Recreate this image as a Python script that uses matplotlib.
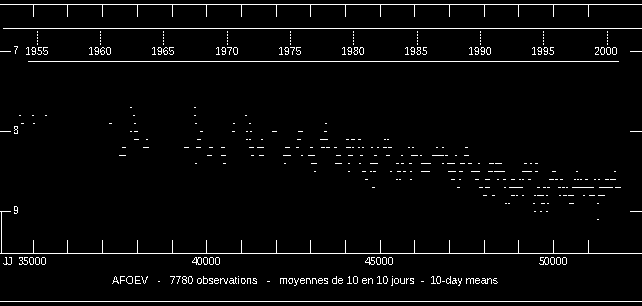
import datetime
import numpy as np
import matplotlib
matplotlib.use("Agg")
import matplotlib.pyplot as plt

# AFOEV light curve, 10-day means (JJ = JD - 2400000)
# each entry is a run of consecutive means: (first JJ, last JJ)
m77 = [(37830, 37830), (39670, 39670)]
m78 = [(34630, 34630), (35000, 35000), (35380, 35380), (37910, 37910), (39670, 39670), (41140, 41140)]
m79 = [(34670, 34700), (35030, 35030), (37210, 37240), (37940, 37940), (39700, 39700), (40800, 40800),
       (41260, 41260), (43450, 43450)]
m80 = [(37830, 37830), (37940, 37990), (39850, 39850), (40770, 40790), (41170, 41170), (41290, 41290),
       (41920, 41920), (41980, 42000), (42670, 42750), (43420, 43440)]
m81 = [(37940, 37960), (38030, 38030), (38290, 38290), (39760, 39800), (41170, 41170), (41260, 41260),
       (41600, 41600), (42640, 42640), (42700, 42700), (43310, 43310), (43360, 43360), (43420, 43420),
       (43480, 43480), (44060, 44060), (44200, 44200), (44260, 44260), (44400, 44420), (45150, 45150),
       (45240, 45240)]
m82 = [(37600, 37600), (37650, 37650), (38200, 38310), (39380, 39460), (39730, 39810), (40100, 40100),
       (40160, 40160), (40450, 40450), (40510, 40510), (41260, 41260), (41320, 41320), (41490, 41490),
       (41550, 41550), (41600, 41620), (42300, 42300), (42350, 42370), (42610, 42640), (43020, 43040),
       (43330, 43330), (43390, 43390), (43480, 43480), (43540, 43540), (43710, 43730), (44060, 44060),
       (44110, 44140), (44230, 44230), (44400, 44400), (44520, 44520), (44780, 44780), (44950, 44950),
       (45120, 45180), (45270, 45300), (45840, 45840), (45960, 45960), (46650, 46650), (46800, 46800),
       (47490, 47510)]
m83 = [(37510, 37560), (37620, 37640), (40050, 40080), (40130, 40130), (40450, 40480), (40540, 40540),
       (41320, 41320), (41550, 41620), (42240, 42240), (42300, 42330), (42410, 42410), (42760, 42760),
       (42960, 43080), (43770, 43830), (44090, 44090), (44140, 44200), (44460, 44490), (44860, 44890),
       (45210, 45270), (45640, 45640), (45930, 46050), (46190, 46190), (46540, 46540), (46590, 46800),
       (46910, 46940), (47200, 47200), (47460, 47530)]
m84 = [(39700, 39700), (40510, 40530), (42270, 42270), (43050, 43160), (43740, 43740), (43800, 43800),
       (43880, 43880), (44090, 44090), (44430, 44430), (44750, 44810), (44890, 44920), (45500, 45520),
       (45640, 45670), (45870, 45900), (46220, 46310), (46390, 46430), (46800, 46810), (46970, 47020),
       (47080, 47080), (47140, 47140), (47340, 47410), (47550, 47610), (47860, 47860), (48180, 48250),
       (48350, 48350), (48410, 48480), (49190, 49220), (49360, 49360), (49510, 49510)]
m85 = [(43130, 43130), (44090, 44090), (44520, 44570), (44750, 44750), (44830, 44860), (45320, 45320),
       (45530, 45580), (45700, 45730), (45900, 45900), (46220, 46410), (47000, 47050), (47110, 47110),
       (47170, 47170), (47310, 47310), (47370, 47370), (47660, 47750), (47800, 47860), (48150, 48240),
       (48320, 48320), (48380, 48580), (49130, 49160), (49220, 49350), (49510, 49530), (50000, 50050),
       (50690, 50690), (51760, 51760)]
m86 = [(44600, 44630), (45500, 45500), (45580, 45580), (45900, 45900), (47080, 47130), (47310, 47310),
       (47780, 47820), (48040, 48140), (48410, 48410), (48580, 48610), (48810, 48870), (49020, 49020),
       (49130, 49130), (49300, 49320), (49910, 49990), (50080, 50100), (50230, 50250), (50630, 50630),
       (50720, 50720), (50800, 50800), (50950, 50970), (51210, 51210), (51320, 51320), (51500, 51570),
       (51670, 51780)]
m87 = [(44810, 44810), (47260, 47280), (47890, 47950), (48060, 48090), (48150, 48150), (48610, 48610),
       (48760, 48760), (48810, 48990), (49070, 49100), (49540, 49580), (49740, 49740), (49850, 49870),
       (50170, 50190), (50260, 50310), (50400, 50400), (50570, 51150), (51350, 51540), (51610, 51700),
       (51790, 51920)]
m88 = [(48010, 48040), (48270, 48270), (48790, 48790), (48850, 48850), (48960, 48960), (49130, 49130),
       (49480, 49480), (49540, 49700), (49820, 49820), (50200, 50200), (50310, 50370), (50460, 50490),
       (50570, 50570), (50890, 50890), (51040, 51040), (51090, 51180), (51320, 51450)]
m89 = [(48640, 48640), (48730, 48730), (49450, 49450), (49680, 49730), (49850, 49850), (50490, 50570),
       (51290, 51290)]
m90 = [(49480, 49480), (49650, 49650), (49800, 49800)]
m91 = [(51270, 51290)]

levels = [(7.7, m77), (7.8, m78), (7.9, m79), (8.0, m80), (8.1, m81), (8.2, m82), (8.3, m83),
          (8.4, m84), (8.5, m85), (8.6, m86), (8.7, m87), (8.8, m88), (8.9, m89), (9.0, m90), (9.1, m91)]

jd_ticks = np.arange(35000, 52000, 1000)
jd_labels = [35000, 40000, 45000, 50000]
years = list(range(1955, 2001, 5))
mag_ticks = [7, 8, 9]
caption = "AFOEV   -   7780 observations   -   moyennes de 10 en 10 jours  -  10-day means"

W, H = 642, 306
plt.rcParams['font.family'] = ['Liberation Sans', 'DejaVu Sans']
plt.rcParams['text.antialiased'] = False

fig = plt.figure(figsize=(W / 100, H / 100), dpi=100, facecolor='black')
ax = fig.add_axes([0, 0, 1, 1])
ax.set_facecolor('black')
ax.axis('off')
ax.set_xlim(34054.2, 52566.0)
ax.set_ylim(10.18125, 6.35625)

def fy(py):
    return 1 - py / H

def fx(px):
    return px / W

lw = 0.5
fs = 7.7
line_kw = dict(color='white', lw=lw, antialiased=False, clip_on=False)
xt = ax.get_xaxis_transform()
yt = ax.get_yaxis_transform()

# frame lines
ax.plot([0, 1], [fy(3.5), fy(3.5)], transform=ax.transAxes, **line_kw)
ax.plot([fx(2.5), 1], [fy(27.5), fy(27.5)], transform=ax.transAxes, **line_kw)
ax.plot([fx(28), fx(618)], [fy(61.5), fy(61.5)], transform=ax.transAxes, **line_kw)
ax.plot([0, 1], [fy(252.5), fy(252.5)], transform=ax.transAxes, **line_kw)
ax.plot([0, 1], [fy(300.5), fy(300.5)], transform=ax.transAxes, **line_kw)
ax.plot([fx(0.5), fx(0.5)], [fy(211), fy(252.5)], transform=ax.transAxes, **line_kw)

# JJ ticks, top and bottom
for t in jd_ticks:
    ax.plot([t, t], [fy(3.5), fy(15.5)], transform=xt, **line_kw)
    ax.plot([t, t], [fy(240), fy(252.5)], transform=xt, **line_kw)
for t in jd_labels:
    ax.text(t, fy(262), str(t), transform=xt, color='white', fontsize=fs,
            ha='center', va='center')
ax.text(fx(3), fy(262), "JJ", transform=ax.transAxes, color='white', fontsize=fs,
        ha='left', va='center')

# year ticks (dotted) and labels
epoch = datetime.date(1858, 11, 17)
for y in years:
    jj = (datetime.date(y, 1, 1) - epoch).days + 0.5
    ax.plot([jj, jj], [fy(31), fy(44.5)], transform=xt, color='white', lw=lw,
            ls=(0, (1.5, 2.5)), antialiased=False, clip_on=False)
    ax.text(jj, fy(51.5), str(y), transform=xt, color='white', fontsize=fs,
            ha='center', va='center')

# magnitude ticks
for m in mag_ticks:
    ax.plot([0, fx(10)], [m, m], transform=yt, **line_kw)
    ax.plot([fx(629.5), 1], [m, m], transform=yt, **line_kw)
    ax.text(fx(13.5), m, str(m), transform=yt, color='white', fontsize=fs,
            ha='left', va='center')

# data
pad = 15
for mag, runs in levels:
    lo = np.array([r[0] for r in runs]) - pad
    hi = np.array([r[1] for r in runs]) + pad
    ax.hlines(np.full(len(runs), mag), lo, hi, colors='white', lw=lw, antialiased=False)

ax.text(fx(305.5), fy(281), caption, transform=ax.transAxes, color='white', fontsize=fs,
        ha='center', va='center')

fig.savefig('out.png', dpi=100, facecolor='black')
